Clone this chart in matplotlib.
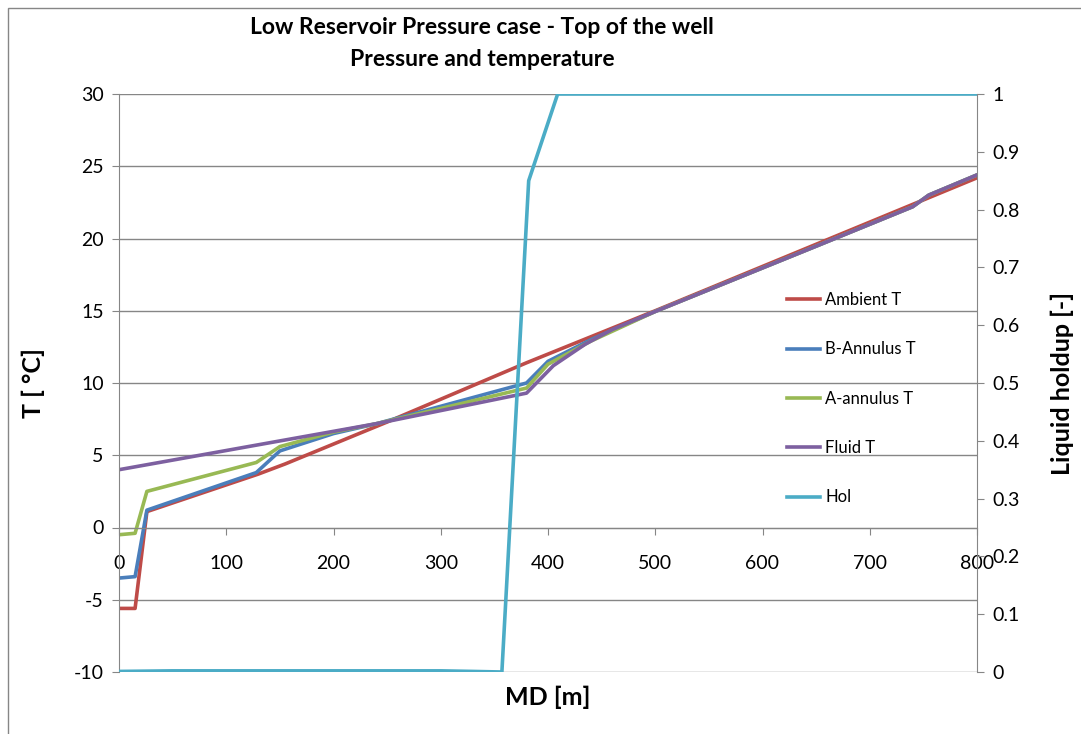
import matplotlib

matplotlib.use("Agg")
import matplotlib.pyplot as plt
from matplotlib.patches import Rectangle

plt.rcParams["font.family"] = ["Lato", "DejaVu Sans"]
plt.rcParams["axes.unicode_minus"] = False

# Temperature profiles along measured depth
ambient_md = [0, 15, 26, 130, 155, 250, 380, 500, 650, 800]
ambient_t = [-5.6, -5.6, 1.1, 3.7, 4.4, 7.3, 11.4, 15.0, 19.6, 24.2]

b_annulus_md = [0, 15, 26, 128, 150, 200, 241, 380, 400, 440, 500, 651, 740, 755, 800]
b_annulus_t = [-3.5, -3.4, 1.2, 3.8, 5.3, 6.5, 7.2, 10.0, 11.5, 13.0, 14.95, 19.5, 22.2, 23.0, 24.4]

a_annulus_md = [0, 15, 26, 128, 150, 200, 241, 380, 400, 440, 500, 651, 740, 755, 800]
a_annulus_t = [-0.5, -0.4, 2.5, 4.5, 5.6, 6.6, 7.2, 9.65, 11.3, 12.9, 14.95, 19.5, 22.2, 23.0, 24.4]

fluid_md = [0, 241, 380, 405, 435, 460, 500, 651, 740, 755, 800]
fluid_t = [4.0, 7.2, 9.3, 11.2, 12.7, 13.7, 14.95, 19.5, 22.2, 23.0, 24.4]

# Liquid holdup on the secondary axis
hol_md = [0, 50, 300, 330, 357, 382, 409, 800]
hol = [0.001, 0.002, 0.002, 0.001, 0.0, 0.85, 1.0, 1.0]

colors = {
    "Ambient T": "#BE4B48",
    "B-Annulus T": "#4A7EBB",
    "A-annulus T": "#98B954",
    "Fluid T": "#7D60A0",
    "Hol": "#4BACC6",
}
grey = "#868686"

fig = plt.figure(figsize=(10.81, 7.34), dpi=100)
fig.patches.append(Rectangle((8 / 1081, -0.02), 1.1, 1 - 8 / 734 + 0.02,
                             transform=fig.transFigure, fill=False,
                             edgecolor=grey, linewidth=1))

ax = fig.add_axes([119 / 1081, 62 / 734, 858 / 1081, 578 / 734])
lw = 2.6
h1, = ax.plot(ambient_md, ambient_t, color=colors["Ambient T"], lw=lw, label="Ambient T")
h2, = ax.plot(b_annulus_md, b_annulus_t, color=colors["B-Annulus T"], lw=lw, label="B-Annulus T")
h3, = ax.plot(a_annulus_md, a_annulus_t, color=colors["A-annulus T"], lw=lw, label="A-annulus T")
h4, = ax.plot(fluid_md, fluid_t, color=colors["Fluid T"], lw=lw, label="Fluid T")

ax.set_xlim(0, 800)
ax.set_ylim(-10, 30)
ax.set_xticks(range(0, 801, 100))
ax.set_yticks(range(-10, 31, 5))
ax.yaxis.grid(True, color=grey, lw=1)
ax.set_axisbelow(True)
ax.spines["top"].set_visible(False)
ax.spines["right"].set_visible(False)
ax.spines["bottom"].set_position(("data", 0))
for side in ("left", "bottom"):
    ax.spines[side].set_color(grey)
ax.tick_params(axis="both", direction="out", length=5, color=grey, labelsize=14, pad=6)
ax.tick_params(axis="x", pad=15)
ax.set_ylabel("T [ °C]", fontsize=18, fontweight="bold", va="center")
ax.yaxis.set_label_coords(-0.1, 0.5)

ax2 = ax.twinx()
h5, = ax2.plot(hol_md, hol, color=colors["Hol"], lw=lw, label="Hol")
ax2.set_ylim(0, 1)
ax2.set_yticks([i / 10 for i in range(11)])
ax2.set_yticklabels(["0"] + [f"{i / 10:.1f}" for i in range(1, 10)] + ["1"])
for side in ("left", "top", "bottom"):
    ax2.spines[side].set_visible(False)
ax2.spines["right"].set_color(grey)
ax2.tick_params(axis="y", direction="out", length=5, color=grey, labelsize=14, pad=6)
ax2.set_ylabel("Liquid holdup [-]", fontsize=18, fontweight="bold", va="center")
ax2.yaxis.set_label_coords(1.1, 0.5)

fig.text(548 / 1081, 1 - 697 / 734, "MD [m]", fontsize=18, fontweight="bold",
         ha="center", va="center")

fig.text(482 / 1081, 1 - 28 / 734, "Low Reservoir Pressure case - Top of the well",
         fontsize=16.5, fontweight="bold", ha="center", va="center")
fig.text(482 / 1081, 1 - 59 / 734, "Pressure and temperature",
         fontsize=16.5, fontweight="bold", ha="center", va="center")

fig.legend(handles=[h1, h2, h3, h4, h5], loc="upper left",
           bbox_to_anchor=(787 / 1081, 1 - 292 / 734), frameon=False,
           fontsize=12, labelspacing=2.0, handlelength=2.0, handletextpad=0.3,
           borderpad=0, borderaxespad=0)

fig.savefig("out.png", dpi=100)
